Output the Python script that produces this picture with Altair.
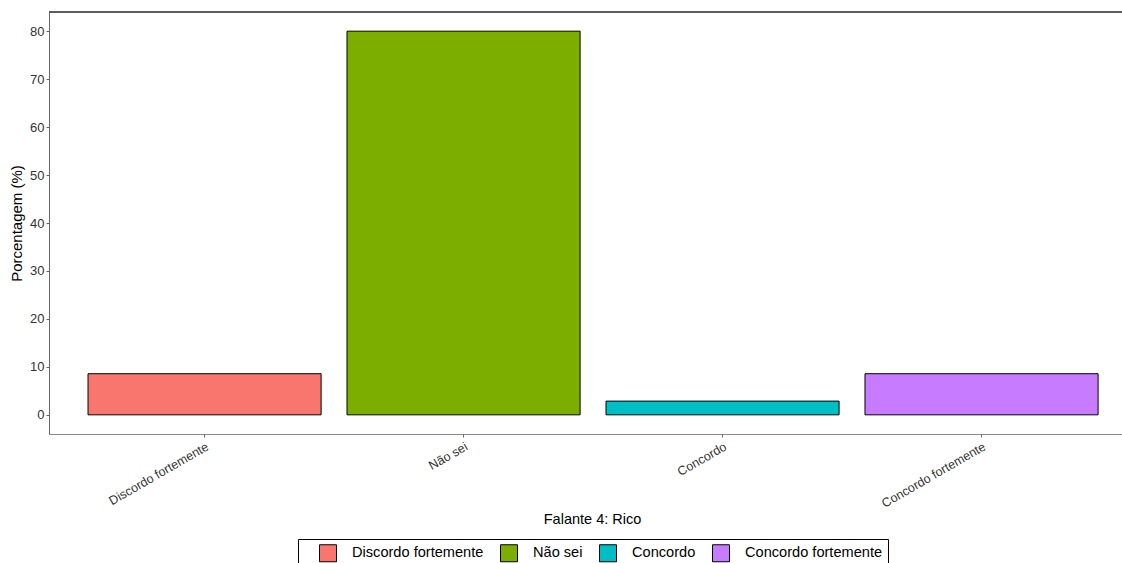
import altair as alt
import pandas as pd

# Survey answers for speaker 4 ("Rico"), as percentages of respondents
categorias = ["Discordo fortemente", "Não sei", "Concordo", "Concordo fortemente"]
porcentagens = [8.571, 80.0, 2.857, 8.571]
cores = ["#F8766D", "#7CAE00", "#00BFC4", "#C77CFF"]
ticks_y = [0, 10, 20, 30, 40, 50, 60, 70, 80]

df = pd.DataFrame({"resposta": categorias, "pct": porcentagens})

FONT = "Liberation Sans"
W, H = 1073, 422

bars = alt.Chart(df).mark_bar(stroke="black", strokeWidth=1).encode(
    x=alt.X(
        "resposta:N",
        sort=categorias,
        scale=alt.Scale(paddingInner=0.1, paddingOuter=0.1215, align=0.62),
        axis=alt.Axis(
            title="Falante 4: Rico",
            labelAngle=-30,
            labelAlign="right",
            labelBaseline="top",
            labelFontSize=12.5,
            labelColor="#333333",
            labelPadding=3,
            tickSize=3,
            tickColor="#666",
            domainColor="#888",
            titleFontSize=14.5,
            titleFontWeight="normal",
            titleColor="black",
            titleX=543,
            titleY=85,
            titleBaseline="middle",
            grid=False,
        ),
    ),
    y=alt.Y(
        "pct:Q",
        scale=alt.Scale(domain=[-4, 84], nice=False, zero=False),
        axis=alt.Axis(
            title="Porcentagem (%)",
            values=ticks_y,
            labelFontSize=13,
            labelColor="#333333",
            labelPadding=2,
            tickSize=3,
            tickColor="#666",
            domainColor="#666",
            titleFontSize=15,
            titleFontWeight="normal",
            titleColor="black",
            titlePadding=5,
            grid=False,
        ),
    ),
    color=alt.Color(
        "resposta:N",
        sort=categorias,
        scale=alt.Scale(domain=categorias, range=cores),
        legend=alt.Legend(
            title=None,
            orient="none",
            direction="horizontal",
            legendX=249,
            legendY=527,
            strokeColor="black",
            padding=5,
            symbolType="square",
            symbolSize=289,
            symbolOffset=16,
            symbolStrokeColor="black",
            symbolStrokeWidth=1,
            symbolOpacity=1,
            labelFontSize=14.6,
            labelColor="black",
            labelOffset=15,
            columnPadding=-8,
            offset=0,
        ),
    ),
)

# top edge of the panel border
top_line = alt.Chart(df).mark_rule(color="#555", strokeWidth=1).encode(
    x=alt.value(0), x2=alt.value(W), y=alt.value(0)
)

chart = (
    alt.layer(bars, top_line)
    .properties(
        width=W,
        height=H,
        autosize=alt.AutoSizeParams(type="none"),
        padding={"left": 49, "top": 12, "right": 0, "bottom": 129},
        background="white",
    )
    .configure_view(stroke=None)
    .configure(font=FONT)
)

chart.save("out.html", embed_options={"renderer": "svg", "actions": False})
